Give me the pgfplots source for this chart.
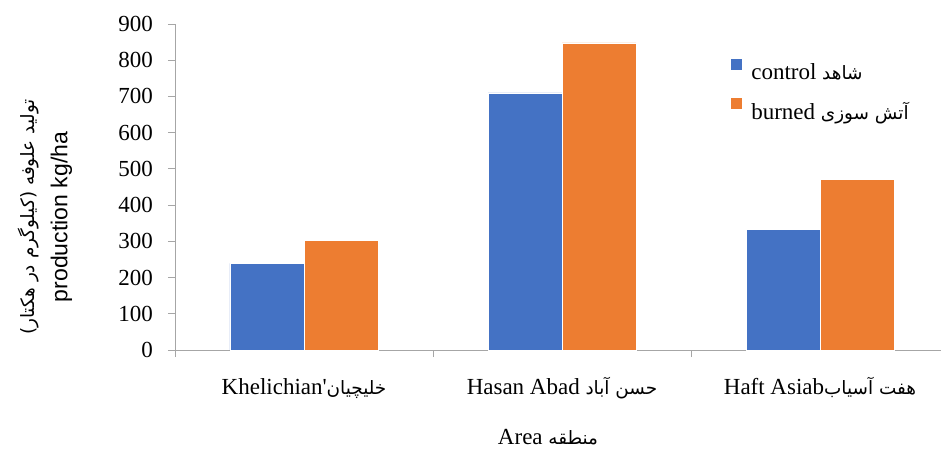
\documentclass[border=0pt]{standalone}
\usepackage{fontspec}
\setmainfont{Liberation Serif}
\setsansfont{Liberation Sans}
\newfontfamily\arabicfont[Script=Arabic,Scale=0.8]{DejaVu Sans}
\TeXXeTstate=1
\usepackage{pgfplots}
\pgfplotsset{compat=1.18}
\definecolor{cblue}{HTML}{4472C4}
\definecolor{corange}{HTML}{ED7D31}
\definecolor{axgray}{HTML}{A6A6A6}
\begin{document}
\begin{tikzpicture}
\begin{axis}[
  at={(0,0)}, anchor=south west,
  scale only axis, width=766pt, height=326pt,
  xmin=-0.5, xmax=2.469, ymin=0, ymax=900,
  ybar=0pt, bar width=74pt,
  axis x line*=bottom, axis y line*=left,
  axis line style={axgray, line width=0.8pt},
  xtick={0,1,2},
  xticklabels={{Khelichian\textquotesingle{\arabicfont\beginR خلیچیان\endR}},
               {Hasan Abad {\arabicfont\beginR حسن آباد\endR}},
               {Haft Asiab{\arabicfont\beginR هفت آسیاب\endR}}},
  major x tick style={draw=none},
  minor xtick={-0.5,0.5,1.5},
  ytick={0,100,...,900},
  tick align=outside,
  tick style={axgray, line width=0.8pt},
  major tick length=7pt, minor tick length=7pt,
  font=\fontsize{23}{27}\selectfont,
  /pgf/number format/assume math mode=true,
  xticklabel style={anchor=base, yshift=-37pt, font=\fontsize{23}{27}\selectfont},
  yticklabel style={anchor=east, inner sep=0pt, xshift=-15pt, font=\fontsize{23}{27}\selectfont},
  xlabel={Area {\arabicfont\beginR منطقه\endR}},
  xlabel style={at={(axis description cs:0.487,0)}, anchor=base, yshift=-94pt},
  ylabel={{\arabicfont\beginR تولید علوفه (کیلوگرم در هکتار)\endR}\\[6pt]{\sffamily production kg/ha}},
  ylabel style={align=center, at={(axis description cs:-0.1697,0.408)}, anchor=center},
  legend style={at={(axis description cs:0.724,0.895)}, anchor=north west,
    draw=none, fill=none, inner sep=0pt, row sep=14pt, column sep=7pt,
    font=\fontsize{23}{27}\selectfont},
  legend cell align=left,
  legend image code/.code={\fill[#1] (0pt,2pt) rectangle (12pt,14pt);},
]
\addplot[fill=cblue, draw=white, line width=0.5pt] coordinates {(0,239) (1,710) (2,334)};
\addplot[fill=corange, draw=white, line width=0.5pt] coordinates {(0,302) (1,848) (2,471)};
\legend{{control {\arabicfont\beginR شاهد\endR}}, {burned {\arabicfont\beginR آتش سوزی\endR}}}
\end{axis}
\pgfresetboundingbox
\path[use as bounding box] (-175pt,-98pt) rectangle (766pt,350pt);
\end{tikzpicture}
\end{document}
